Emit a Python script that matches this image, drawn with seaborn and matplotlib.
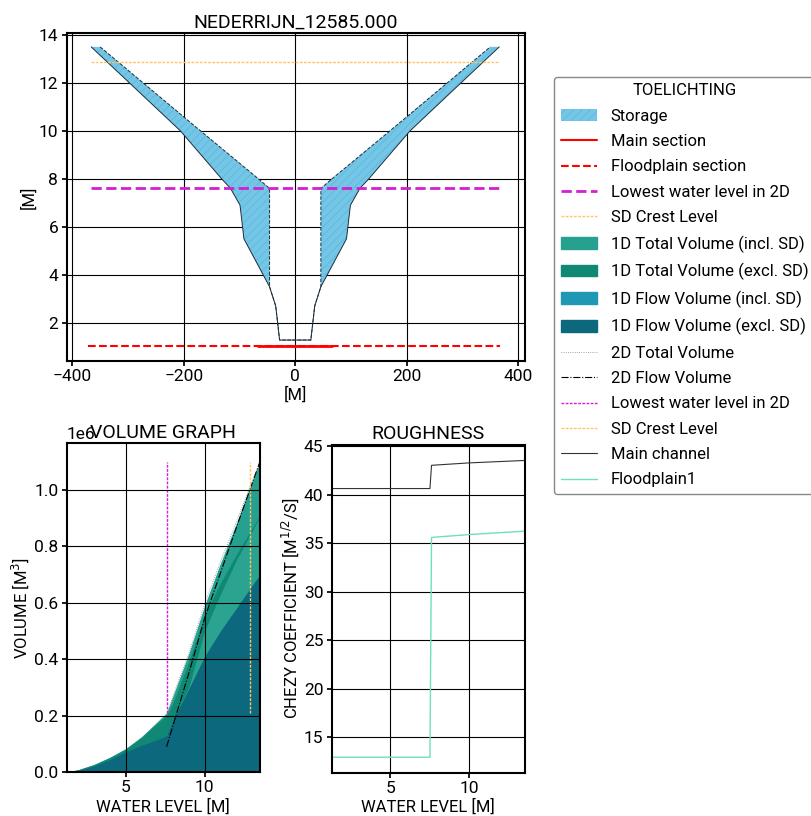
import numpy as np
import pandas as pd
import matplotlib
matplotlib.use('Agg')
import matplotlib.pyplot as plt
import seaborn as sns
from matplotlib.patches import Patch
from matplotlib.lines import Line2D

# cross-section geometry (half widths in m, levels in m)
section_levels = [1.28, 2.7, 3.5, 5.5, 6.9, 7.6, 8.0, 10.0, 13.5]
total_half_width = [28, 35, 46, 92, 99, 116, 132, 206, 366]
flow_half_width = [28, 35, 46, 46, 46, 46, 66, 170, 350]

main_section_extent = [-66, 66]
floodplain_section_extent = [-372, 368]
section_level = 1.04
lowest_2d_level = 7.63
sd_crest_level = 12.86
level_line_extent = [-366, 366]

# volume graph (volumes in 1e6 m3)
water_level = [1.28, 2, 3, 4, 5, 6, 7, 7.6, 8, 9, 10, 11, 12, 12.86, 13.5]
total_vol_incl_sd = [0, .008, .027, .052, .083, .125, .178, .21, .27, .42, .59, .74, .88, 1.01, 1.10]
total_vol_excl_sd = [0, .008, .026, .051, .081, .122, .172, .20, .245, .39, .555, .67, .77, .85, .91]
flow_vol_incl_sd = [0, .007, .022, .044, .072, .095, .115, .13, .185, .30, .50, .63, .75, .84, .905]
flow_vol_excl_sd = [0, .007, .022, .044, .072, .095, .115, .13, .185, .295, .41, .50, .58, .65, .70]
vol_2d_level = [7.6, 8, 9, 10, 11, 12, 12.86, 13.5]
vol_2d_total = [0.20, 0.27, 0.42, 0.595, 0.745, 0.885, 1.01, 1.10]
vol_2d_flow = [0.09, 0.165, 0.35, 0.545, 0.705, 0.865, 1.0, 1.1]
vline_range = [0.21, 1.10]

# roughness
rough_level = [1.28, 7.5, 7.6, 10.0, 13.5]
chezy_main = [40.65, 40.65, 43.05, 43.3, 43.55]
chezy_floodplain = [12.9, 12.9, 35.6, 35.9, 36.25]

# colours
storage_color = '#74c6e6'
hatch_color = '#5fb4dc'
col_total_incl = '#26a08f'
col_total_excl = '#108873'
col_flow_incl = '#2098b4'
col_flow_excl = '#0c687c'
col_flow_incl_plot = '#2aa491'
magenta = '#d21fd2'
orange = '#ffc469'
floodplain_color = '#6fdfbd'

sns.set_theme(style='whitegrid', rc={
    'grid.color': 'black', 'grid.linewidth': 0.8,
    'axes.edgecolor': 'black', 'axes.linewidth': 1.5,
    'xtick.bottom': True, 'ytick.left': True,
    'xtick.major.size': 3.5, 'ytick.major.size': 3.5,
    'xtick.major.pad': 2.5, 'ytick.major.pad': 2.5,
    'xtick.color': 'black', 'ytick.color': 'black',
    'axes.labelcolor': 'black', 'text.color': 'black',
    'axes.labelpad': 2.0,
    'hatch.linewidth': 0.5,
})
plt.rcParams['font.family'] = ['Roboto', 'DejaVu Sans']
plt.rcParams['font.size'] = 12
plt.rcParams['xtick.labelsize'] = 12.5
plt.rcParams['ytick.labelsize'] = 12.5
plt.rcParams['axes.labelsize'] = 12

fig = plt.figure(figsize=(8.11, 8.16), dpi=100)
ax_cs = fig.add_axes([0.0822, 0.558, 0.565, 0.4016])
ax_vol = fig.add_axes([0.0822, 0.0539, 0.2384, 0.403])
ax_r = fig.add_axes([0.409, 0.053, 0.238, 0.4017])

# --- cross section
z = np.array(section_levels)
tw = np.array(total_half_width)
fw = np.array(flow_half_width)
for side in (-1, 1):
    ax_cs.fill_betweenx(z, side * tw, side * fw, facecolor=storage_color,
                        edgecolor=hatch_color, hatch='////', linewidth=0)
outer = pd.DataFrame({'x': np.concatenate([-tw[::-1], tw]), 'z': np.concatenate([z[::-1], z])})
inner = pd.DataFrame({'x': np.concatenate([-fw[::-1], fw]), 'z': np.concatenate([z[::-1], z])})
sns.lineplot(data=outer, x='x', y='z', sort=False, estimator=None, ax=ax_cs, color='#1c2f3a', lw=0.7)
sns.lineplot(data=inner, x='x', y='z', sort=False, estimator=None, ax=ax_cs, color='#1c2f3a', lw=0.7,
             linestyle='--')
ax_cs.plot(main_section_extent, [section_level] * 2, color='red', lw=2)
ax_cs.plot(floodplain_section_extent, [section_level] * 2, color='red', lw=1.5, ls='--')
ax_cs.plot(level_line_extent, [lowest_2d_level] * 2, color=magenta, lw=2, ls='--')
ax_cs.plot(level_line_extent, [sd_crest_level] * 2, color=orange, lw=1, ls=(0, (2, 1)))
ax_cs.set_xlim(-410, 412)
ax_cs.set_ylim(0.42, 14.08)
ax_cs.set_xticks([-400, -200, 0, 200, 400])
ax_cs.set_yticks([2, 4, 6, 8, 10, 12, 14])
ax_cs.set_title('NEDERRIJN_12585.000', fontsize=14, y=1.0, pad=4)
ax_cs.set_xlabel('[M]')
ax_cs.set_ylabel('[M]')

# --- volume graph
wl = np.array(water_level)
s = 1e6
ax_vol.fill_between(wl, 0, np.array(total_vol_incl_sd) * s, color=col_total_incl, lw=0)
ax_vol.fill_between(wl, 0, np.array(total_vol_excl_sd) * s, color=col_total_excl, lw=0)
ax_vol.fill_between(wl, 0, np.array(flow_vol_incl_sd) * s, color=col_flow_incl_plot, lw=0)
ax_vol.fill_between(wl, 0, np.array(flow_vol_excl_sd) * s, color=col_flow_excl, lw=0)
ax_vol.plot(vol_2d_level, np.array(vol_2d_total) * s, color='#888888', lw=0.6, ls=':')
ax_vol.plot(vol_2d_level, np.array(vol_2d_flow) * s, color='black', lw=0.8, ls='-.')
ax_vol.vlines(lowest_2d_level, vline_range[0] * s, vline_range[1] * s, color=magenta, lw=1, ls=(0, (2, 1)))
ax_vol.vlines(sd_crest_level, vline_range[0] * s, vline_range[1] * s, color=orange, lw=1, ls=(0, (2, 1)))
ax_vol.set_axisbelow(False)
ax_vol.set_xlim(1.28, 13.5)
ax_vol.set_ylim(0, 1.165e6)
ax_vol.set_xticks([5, 10])
ax_vol.set_yticks([0, 0.2e6, 0.4e6, 0.6e6, 0.8e6, 1.0e6])
ax_vol.set_title('VOLUME GRAPH', fontsize=14, y=1.0, pad=4)
ax_vol.set_xlabel('WATER LEVEL [M]')
ax_vol.set_ylabel('VOLUME [M$^3$]')

# --- roughness
rough = pd.DataFrame({'level': rough_level, 'main': chezy_main, 'fp': chezy_floodplain})
sns.lineplot(data=rough, x='level', y='main', ax=ax_r, color='#333333', lw=0.8, estimator=None)
sns.lineplot(data=rough, x='level', y='fp', ax=ax_r, color=floodplain_color, lw=1.0, estimator=None)
ax_r.set_xlim(1.28, 13.5)
ax_r.set_ylim(11.3, 45.15)
ax_r.set_xticks([5, 10])
ax_r.set_yticks([15, 20, 25, 30, 35, 40, 45])
ax_r.set_title('ROUGHNESS', fontsize=14, y=1.0, pad=4)
ax_r.set_xlabel('WATER LEVEL [M]')
ax_r.set_ylabel('CHEZY COEFFICIENT [M$^{1/2}$/S]')

for ax in (ax_cs, ax_vol, ax_r):
    ax.grid(True, color='black', lw=0.8)
    for sp in ax.spines.values():
        sp.set_color('black')
        sp.set_linewidth(1.5)

handles = [
    Patch(facecolor=storage_color, edgecolor=hatch_color, hatch='////', lw=0, label='Storage'),
    Line2D([], [], color='red', lw=1.5, label='Main section'),
    Line2D([], [], color='red', lw=1.5, ls='--', label='Floodplain section'),
    Line2D([], [], color=magenta, lw=2, ls='--', label='Lowest water level in 2D'),
    Line2D([], [], color=orange, lw=1, ls=(0, (2, 1)), label='SD Crest Level'),
    Patch(color=col_total_incl, label='1D Total Volume (incl. SD)'),
    Patch(color=col_total_excl, label='1D Total Volume (excl. SD)'),
    Patch(color=col_flow_incl, label='1D Flow Volume (incl. SD)'),
    Patch(color=col_flow_excl, label='1D Flow Volume (excl. SD)'),
    Line2D([], [], color='#888888', lw=0.6, ls=':', label='2D Total Volume'),
    Line2D([], [], color='black', lw=0.8, ls='-.', label='2D Flow Volume'),
    Line2D([], [], color=magenta, lw=1, ls=(0, (2, 1)), label='Lowest water level in 2D'),
    Line2D([], [], color=orange, lw=1, ls=(0, (2, 1)), label='SD Crest Level'),
    Line2D([], [], color='#333333', lw=0.8, label='Main channel'),
    Line2D([], [], color=floodplain_color, lw=1.0, label='Floodplain1'),
]
leg = fig.legend(handles=handles, loc='upper left', bbox_to_anchor=(0.683, 0.906),
                 borderaxespad=0, title='TOELICHTING', fontsize=12, title_fontsize=12,
                 frameon=True, fancybox=True, edgecolor='#888888', framealpha=1,
                 labelspacing=0.62, handlelength=2.2)

fig.savefig('out.png', dpi=100)
